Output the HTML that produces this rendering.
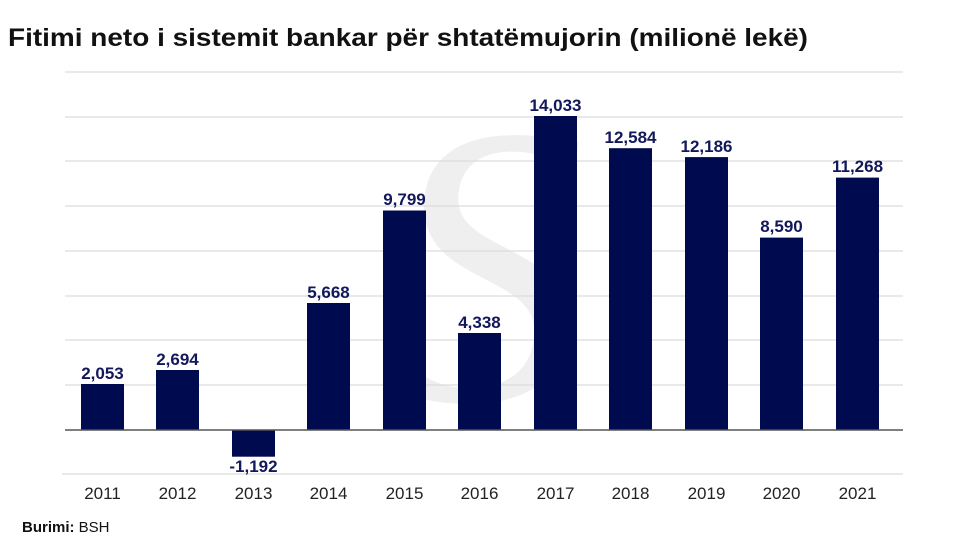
<!DOCTYPE html>
<html><head><style>
body{margin:0;background:#fff;}
svg{display:block;font-family:"Liberation Sans",Arial,sans-serif;}
</style></head><body>
<svg width="978" height="550" viewBox="0 0 978 550" xmlns="http://www.w3.org/2000/svg">
<rect width="978" height="550" fill="#fff"/>
<text x="8" y="46" font-size="25" font-weight="bold" fill="#111" textLength="800" lengthAdjust="spacingAndGlyphs">Fitimi neto i sistemit bankar për shtatëmujorin (milionë lekë)</text>
<text x="385" y="400" font-size="400" font-family="Liberation Serif,serif" font-style="italic" fill="#efefef">S</text>
<g stroke="#dcdcdc" stroke-width="1.2">
<line x1="65" x2="903" y1="72" y2="72"/>
<line x1="65" x2="903" y1="117" y2="117"/>
<line x1="65" x2="903" y1="161" y2="161"/>
<line x1="65" x2="903" y1="206" y2="206"/>
<line x1="65" x2="903" y1="251" y2="251"/>
<line x1="65" x2="903" y1="296" y2="296"/>
<line x1="65" x2="903" y1="340" y2="340"/>
<line x1="65" x2="903" y1="385" y2="385"/>
<line x1="62" x2="903" y1="474" y2="474"/>
</g>
<g fill="#000a4f">
<rect x="81" y="384" width="43" height="46"/>
<rect x="156" y="370" width="43" height="60"/>
<rect x="232" y="430" width="43" height="26.7"/>
<rect x="307" y="303" width="43" height="127"/>
<rect x="383" y="210.5" width="43" height="219.5"/>
<rect x="458" y="333" width="43" height="97"/>
<rect x="534" y="116" width="43" height="314"/>
<rect x="609" y="148.2" width="43" height="281.8"/>
<rect x="685" y="157.1" width="43" height="272.9"/>
<rect x="760" y="237.6" width="43" height="192.4"/>
<rect x="836" y="177.6" width="43" height="252.4"/>
</g>
<line x1="65" x2="903" y1="430" y2="430" stroke="#555" stroke-width="1.5"/>
<g font-size="17" font-weight="bold" fill="#12185a" text-anchor="middle">
<text x="102.5" y="379">2,053</text>
<text x="177.5" y="365">2,694</text>
<text x="253.5" y="472">-1,192</text>
<text x="328.5" y="298">5,668</text>
<text x="404.5" y="205">9,799</text>
<text x="479.5" y="328">4,338</text>
<text x="555.5" y="111">14,033</text>
<text x="630.5" y="143">12,584</text>
<text x="706.5" y="152">12,186</text>
<text x="781.5" y="232">8,590</text>
<text x="857.5" y="172">11,268</text>
</g>
<g font-size="17" fill="#222" text-anchor="middle">
<text x="102.5" y="499">2011</text>
<text x="177.5" y="499">2012</text>
<text x="253.5" y="499">2013</text>
<text x="328.5" y="499">2014</text>
<text x="404.5" y="499">2015</text>
<text x="479.5" y="499">2016</text>
<text x="555.5" y="499">2017</text>
<text x="630.5" y="499">2018</text>
<text x="706.5" y="499">2019</text>
<text x="781.5" y="499">2020</text>
<text x="857.5" y="499">2021</text>
</g>
<text x="22" y="532" font-size="15" fill="#111"><tspan font-weight="bold">Burimi:</tspan> BSH</text>
</svg>
</body></html>
